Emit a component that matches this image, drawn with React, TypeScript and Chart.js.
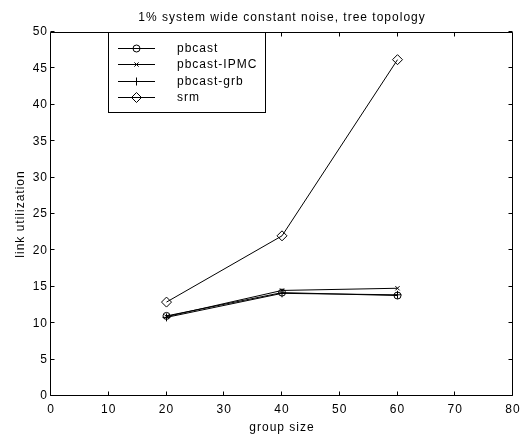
import React, { useEffect, useRef } from 'react';
import { Chart, registerables } from 'chart.js';

Chart.register(...registerables);

const TITLE = '1% system wide constant noise, tree topology';
const X_LABEL = 'group size';
const Y_LABEL = 'link utilization';

const groupSizes = [20, 40, 60];
const pbcast = [11.0, 14.2, 13.8];
const pbcastIPMC = [10.9, 14.5, 14.8];
const pbcastGrb = [10.8, 14.1, 13.9];
const srm = [12.9, 22.0, 46.2];

const seriesNames = ['pbcast', 'pbcast-IPMC', 'pbcast-grb', 'srm'];
const seriesValues = [pbcast, pbcastIPMC, pbcastGrb, srm];
const markerStyles = ['circle', 'crossRot', 'cross', 'rectRot'];
const markerSizes = [3.5, 3, 4, 5];

const X_MIN = 0, X_MAX = 80, X_STEP = 10;
const Y_MIN = 0, Y_MAX = 50, Y_STEP = 5;

const FONT = '"Liberation Sans", Arial, Helvetica, sans-serif';

function drawMarker(ctx: CanvasRenderingContext2D, style: string, x: number, y: number, r: number) {
  ctx.beginPath();
  if (style === 'circle') {
    ctx.arc(x, y, r, 0, Math.PI * 2);
  } else if (style === 'crossRot') {
    const o = Math.cos(Math.PI / 4) * r;
    ctx.moveTo(x - o, y - o); ctx.lineTo(x + o, y + o);
    ctx.moveTo(x - o, y + o); ctx.lineTo(x + o, y - o);
  } else if (style === 'cross') {
    ctx.moveTo(x, y - r); ctx.lineTo(x, y + r);
    ctx.moveTo(x - r, y); ctx.lineTo(x + r, y);
  } else if (style === 'rectRot') {
    ctx.moveTo(x - r, y); ctx.lineTo(x, y - r); ctx.lineTo(x + r, y); ctx.lineTo(x, y + r); ctx.closePath();
  }
  ctx.stroke();
}

const letterSpacingPlugin = {
  id: 'letterSpacing',
  beforeLayout(chart: any) { chart.ctx.letterSpacing = '1px'; },
  beforeDraw(chart: any) { chart.ctx.letterSpacing = '1px'; },
};

const framePlugin = {
  id: 'frame',
  afterDraw(chart: any) {
    const { ctx, chartArea } = chart;
    const xs = chart.scales.x;
    const ys = chart.scales.y;
    const L = Math.round(chartArea.left) - 0.5;
    const R = Math.round(chartArea.right) - 0.5;
    const T = Math.round(chartArea.top) + 0.5;
    const B = Math.round(chartArea.bottom) - 0.5;
    const tl = 4;
    ctx.save();
    ctx.strokeStyle = '#000';
    ctx.lineWidth = 1;
    ctx.beginPath();
    ctx.rect(L, T, R - L, B - T);
    ctx.stroke();
    ctx.beginPath();
    for (let v = X_MIN; v <= X_MAX; v += X_STEP) {
      const px = Math.round(xs.getPixelForValue(v)) - 0.5;
      ctx.moveTo(px, B); ctx.lineTo(px, B - tl);
      ctx.moveTo(px, T); ctx.lineTo(px, T + tl);
    }
    for (let v = Y_MIN; v <= Y_MAX; v += Y_STEP) {
      const py = Math.round(ys.getPixelForValue(v)) - 0.5;
      ctx.moveTo(L, py); ctx.lineTo(L + tl, py);
      ctx.moveTo(R, py); ctx.lineTo(R - tl, py);
    }
    ctx.stroke();

    // legend box
    const bx = 108.5, by = T, bw = 157, bh = 80;
    ctx.fillStyle = '#fff';
    ctx.fillRect(bx, by, bw, bh);
    ctx.strokeRect(bx, by, bw, bh);
    ctx.font = '12px ' + FONT;
    ctx.letterSpacing = '1px';
    ctx.fillStyle = '#000';
    ctx.textAlign = 'left';
    ctx.textBaseline = 'middle';
    seriesNames.forEach((name, i) => {
      const y = Math.round(48 + i * 16.3) + 0.5;
      ctx.beginPath();
      ctx.moveTo(118, y); ctx.lineTo(155, y);
      ctx.stroke();
      drawMarker(ctx, markerStyles[i], 136.5, y, markerSizes[i]);
      ctx.fillText(name, 177, y);
    });
    ctx.restore();
  },
};

export default function App() {
  const ref = useRef<HTMLCanvasElement>(null);
  useEffect(() => {
    Chart.defaults.font.family = FONT;
    Chart.defaults.font.size = 12;
    Chart.defaults.color = '#000';
    const datasets = seriesNames.map((name, i) => ({
      label: name,
      data: groupSizes.map((g, j) => ({ x: g, y: seriesValues[i][j] })),
      borderColor: '#000',
      borderWidth: 1,
      pointStyle: markerStyles[i],
      pointRadius: markerSizes[i],
      pointBorderColor: '#000',
      pointBackgroundColor: 'rgba(0,0,0,0)',
      pointBorderWidth: 1,
      tension: 0,
      fill: false,
    }));
    const chart = new Chart(ref.current!, {
      type: 'line',
      data: { datasets },
      options: {
        animation: false,
        responsive: false,
        layout: { padding: { left: 0, right: 17, top: 0, bottom: 0 } },
        plugins: {
          legend: { display: false },
          tooltip: { enabled: false },
          title: {
            display: true,
            fullSize: false,
            text: TITLE,
            color: '#000',
            font: { size: 12, weight: 'normal', family: FONT },
            padding: { top: 10, bottom: 7.6 },
          },
        },
        scales: {
          x: {
            type: 'linear',
            min: X_MIN,
            max: X_MAX,
            grid: { display: false, drawTicks: false },
            border: { display: false },
            ticks: { stepSize: X_STEP, padding: 6, color: '#000', maxRotation: 0 },
            title: { display: true, text: X_LABEL, color: '#000', font: { size: 12 }, padding: { top: 4, bottom: 1 } },
            afterFit: (s: any) => { s.height = 40; },
          },
          y: {
            type: 'linear',
            min: Y_MIN,
            max: Y_MAX,
            grid: { display: false, drawTicks: false },
            border: { display: false },
            ticks: { stepSize: Y_STEP, padding: 3, color: '#000' },
            title: { display: true, text: Y_LABEL, color: '#000', font: { size: 12 }, padding: { top: 13, bottom: 0 } },
            afterFit: (s: any) => { s.width = 51; },
          },
        },
      } as any,
      plugins: [letterSpacingPlugin, framePlugin],
    } as any);
    return () => chart.destroy();
  }, []);
  return (
    <div style={{ position: 'fixed', left: 0, top: 0, width: 520, height: 436, overflow: 'hidden', background: '#fff' }}>
      <canvas ref={ref} width={530} height={436} style={{ display: 'block', width: 530, height: 436 }} />
    </div>
  );
}
